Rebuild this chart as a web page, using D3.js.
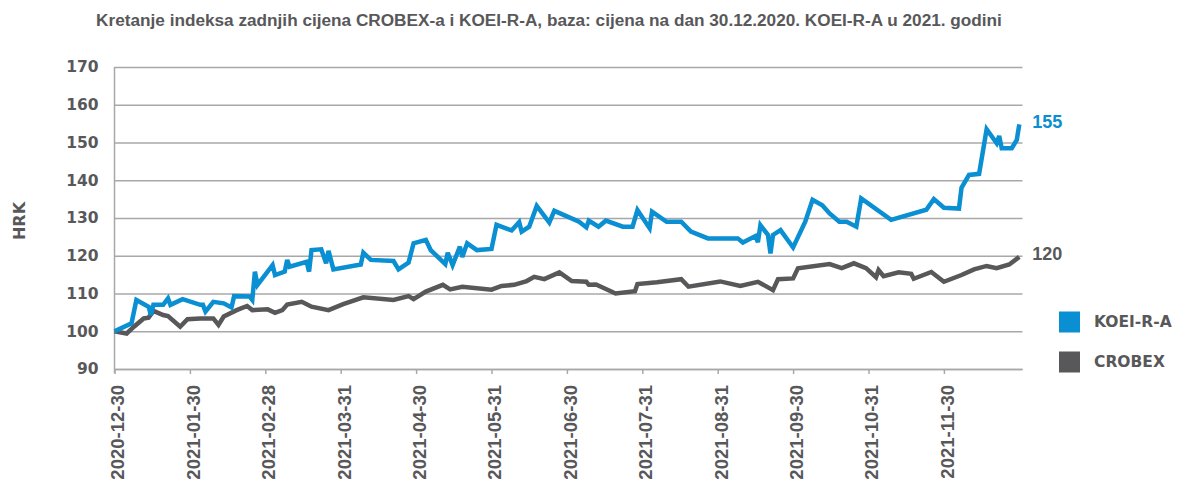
<!DOCTYPE html>
<html>
<head>
<meta charset="utf-8">
<script src="https://cdn.jsdelivr.net/npm/d3@7"></script>
<style>
  html, body { margin: 0; padding: 0; background: #fff; }
  svg { display: block; }
</style>
</head>
<body>
<svg id="chart" width="1184" height="486"></svg>
<script>
const titleText = "Kretanje indeksa zadnjih cijena CROBEX-a i KOEI-R-A, baza: cijena na dan 30.12.2020. KOEI-R-A u 2021. godini";
const yAxisTitle = "HRK";
const yTicks = [90, 100, 110, 120, 130, 140, 150, 160, 170];
const xTickLabels = ["2020-12-30","2021-01-30","2021-02-28","2021-03-31","2021-04-30","2021-05-31","2021-06-30","2021-07-31","2021-08-31","2021-09-30","2021-10-31","2021-11-30"];
const xEndDate = "2021-12-30";
const seriesNames = ["KOEI-R-A", "CROBEX"];
const seriesColors = ["#0a8fd2", "#58585a"];

const koeiDates = ["2020-12-30","2021-01-06","2021-01-08","2021-01-13","2021-01-14","2021-01-15","2021-01-19","2021-01-21","2021-01-22","2021-01-27",
"2021-02-03","2021-02-04","2021-02-05","2021-02-08","2021-02-12","2021-02-15","2021-02-16","2021-02-22","2021-02-23","2021-02-24","2021-02-25",
"2021-03-03","2021-03-04","2021-03-08","2021-03-09","2021-03-10","2021-03-17","2021-03-18","2021-03-19","2021-03-23","2021-03-25","2021-03-26","2021-03-28",
"2021-04-08","2021-04-09","2021-04-12","2021-04-21","2021-04-23","2021-04-27","2021-04-29",
"2021-05-04","2021-05-06","2021-05-12","2021-05-13","2021-05-15","2021-05-18","2021-05-19","2021-05-21","2021-05-25","2021-05-31",
"2021-06-02","2021-06-08","2021-06-11","2021-06-12","2021-06-15","2021-06-18","2021-06-23","2021-06-25",
"2021-07-05","2021-07-08","2021-07-09","2021-07-13","2021-07-16","2021-07-23","2021-07-27","2021-07-29",
"2021-08-03","2021-08-04","2021-08-10","2021-08-16","2021-08-20","2021-08-27",
"2021-09-08","2021-09-10","2021-09-15","2021-09-16","2021-09-17","2021-09-20","2021-09-21","2021-09-22","2021-09-25","2021-09-30",
"2021-10-05","2021-10-08","2021-10-12","2021-10-15","2021-10-19","2021-10-22","2021-10-26","2021-10-28",
"2021-11-09","2021-11-23","2021-11-26","2021-11-30",
"2021-12-06","2021-12-07","2021-12-10","2021-12-14","2021-12-17","2021-12-21","2021-12-22","2021-12-23","2021-12-27","2021-12-29","2021-12-30"];
const koeiValues = [100,102.1,108.3,106.5,104.3,107,107,108.7,107,108.5,
107,107,105.2,107.8,107.4,106.3,109.3,109.2,108.3,115.8,112.3,
117.5,114.9,115.8,118.9,117.1,118.4,115.8,121.5,121.7,118,121.3,116.4,
117.7,120.8,118.9,118.6,116.4,118.2,123.3,
124.2,121.5,117.8,120.8,117.5,122.4,119.7,123.3,121.5,121.8,
128.2,126.7,128.9,126.4,127.7,133.2,128.8,131.9,
129,127.5,129.3,127.7,129.3,127.7,127.7,132.1,
127.3,131.7,129,129,126.4,124.6,
124.6,123.5,125.2,123.6,128.1,125.5,120.6,125.5,126.8,122.2,
129,134.8,133.4,131.2,129,129,127.7,135.2,
129.5,132.2,135,132.7,
132.5,138,141.4,141.7,153.5,149.8,151.7,148.5,148.5,150.7,154.8];

const crobexDates = ["2020-12-30","2021-01-04","2021-01-07","2021-01-11","2021-01-13","2021-01-15","2021-01-19","2021-01-21","2021-01-26","2021-01-29",
"2021-02-03","2021-02-08","2021-02-10","2021-02-12","2021-02-17","2021-02-21","2021-02-23",
"2021-03-01","2021-03-04","2021-03-07","2021-03-09","2021-03-15","2021-03-19","2021-03-26",
"2021-04-01","2021-04-09","2021-04-21","2021-04-27","2021-04-29",
"2021-05-04","2021-05-11","2021-05-14","2021-05-19","2021-05-31",
"2021-06-04","2021-06-09","2021-06-14","2021-06-17","2021-06-21","2021-06-27",
"2021-07-02","2021-07-08","2021-07-09","2021-07-12","2021-07-20","2021-07-28","2021-07-29",
"2021-08-06","2021-08-16","2021-08-19",
"2021-09-01","2021-09-09","2021-09-16","2021-09-22","2021-09-24","2021-09-30",
"2021-10-02","2021-10-15","2021-10-20","2021-10-25","2021-10-30",
"2021-11-03","2021-11-04","2021-11-06","2021-11-12","2021-11-17","2021-11-18","2021-11-25","2021-11-30",
"2021-12-07","2021-12-12","2021-12-17","2021-12-21","2021-12-26","2021-12-30"];
const crobexValues = [100,99.4,101.2,103.4,103.6,105.4,104.3,104,101.2,103.2,
103.4,103.4,101.7,103.9,105.6,106.7,105.6,
105.8,104.9,105.6,107.1,107.8,106.5,105.6,
107.2,109,108.3,109.3,108.5,
110.5,112.3,111.1,111.8,111,
112,112.3,113.3,114.4,113.8,115.6,
113.3,113.1,112.3,112.4,110,110.6,112.5,
113,113.8,111.8,
113.2,112,113.1,110.9,113.8,114,
116.7,117.8,116.7,118,116.7,
114.3,116.2,114.6,115.6,115.2,113.9,115.7,113.1,
114.9,116.4,117.3,116.7,117.7,119.7];

const parse = d3.timeParse("%Y-%m-%d");
const svg = d3.select("#chart");
const textColor = "#58585a";
const gridColor = "#a8a8a8";

const plotLeft = 114.5, plotRight = 1022.5, plotTop = 67, plotBottom = 369;
const tickDates = xTickLabels.concat([xEndDate]).map(parse);
const step = (1019.3 - plotLeft) / (tickDates.length - 1);
const x = d3.scaleTime().domain(tickDates).range(tickDates.map((d, i) => plotLeft + i * step));
const y = d3.scaleLinear().domain([90, 170]).range([plotBottom, plotTop]);

// title
svg.append("text").attr("x", 549).attr("y", 26).attr("text-anchor", "middle")
  .attr("font-family", "Liberation Sans, Arial, sans-serif").attr("font-weight", "bold")
  .attr("font-size", "17.2px").attr("fill", textColor).text(titleText);

// gridlines
const yAxis = d3.axisLeft(y).tickValues(yTicks).tickSize(-(plotRight - plotLeft)).tickFormat(d3.format("d")).tickPadding(16);
const gy = svg.append("g").attr("transform", `translate(${plotLeft},0)`).call(yAxis);
gy.select(".domain").remove();
gy.selectAll(".tick line").attr("stroke", gridColor).attr("stroke-width", 1.5);
gy.selectAll(".tick text").attr("font-family", "DejaVu Sans, sans-serif").attr("font-weight", "bold")
  .attr("font-size", "15.5px").attr("fill", textColor);
svg.append("line").attr("x1", plotLeft).attr("x2", plotLeft).attr("y1", y(170)).attr("y2", plotBottom + 4)
  .attr("stroke", gridColor).attr("stroke-width", 1.5);

// x axis
const xAxis = d3.axisBottom(x).tickValues(xTickLabels.map(parse)).tickSize(5).tickFormat(d3.timeFormat("%Y-%m-%d"));
const gx = svg.append("g").attr("transform", `translate(0,${plotBottom})`).call(xAxis);
gx.select(".domain").attr("d", `M${plotLeft},0.5H${plotRight}`).attr("stroke", gridColor).attr("stroke-width", 1.5);
gx.selectAll(".tick line").attr("stroke", gridColor).attr("stroke-width", 1.5);
gx.selectAll(".tick text").attr("font-family", "Liberation Sans, Arial, sans-serif").attr("font-weight", "bold")
  .attr("font-size", "18.5px").attr("fill", textColor)
  .attr("text-anchor", "end").attr("y", 0).attr("dy", "0.35em")
  .attr("transform", "translate(3,16) rotate(-90)");

// y axis title
svg.append("text").attr("transform", "translate(25,221) rotate(-90)").attr("text-anchor", "middle")
  .attr("font-family", "DejaVu Sans, sans-serif").attr("font-weight", "bold").attr("font-size", "16px")
  .attr("fill", textColor).text(yAxisTitle);

// lines
const series = [
  { name: seriesNames[0], color: seriesColors[0], pts: koeiDates.map((d, i) => [parse(d), koeiValues[i]]) },
  { name: seriesNames[1], color: seriesColors[1], pts: crobexDates.map((d, i) => [parse(d), crobexValues[i]]) }
];
const line = d3.line().x(d => x(d[0])).y(d => y(d[1]));
[series[1], series[0]].forEach(s => {
  svg.append("path").datum(s.pts).attr("d", line).attr("fill", "none")
    .attr("stroke", s.color).attr("stroke-width", 4.5).attr("stroke-linejoin", "miter").attr("stroke-miterlimit", 3);
});

// end labels
series.forEach(s => {
  const last = s.pts[s.pts.length - 1];
  svg.append("text").attr("x", x(last[0]) + 13).attr("y", y(last[1]) - 3).attr("dy", "0.35em")
    .attr("font-family", "Liberation Sans, Arial, sans-serif").attr("font-weight", "bold").attr("font-size", "18px")
    .attr("fill", s.color).text(Math.round(last[1]));
});

// legend
series.forEach((s, i) => {
  const ly = 322 + i * 40;
  svg.append("rect").attr("x", 1059).attr("y", ly - 10.5).attr("width", 21).attr("height", 21).attr("fill", s.color);
  svg.append("text").attr("x", 1094).attr("y", ly).attr("dy", "0.35em")
    .attr("font-family", "DejaVu Sans, sans-serif").attr("font-weight", "bold").attr("font-size", "15.5px")
    .attr("fill", textColor).text(s.name);
});
</script>
</body>
</html>
